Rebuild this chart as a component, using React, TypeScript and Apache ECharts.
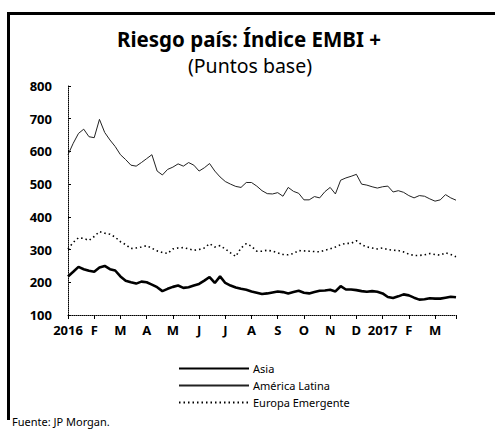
import React, { useEffect, useRef } from "react";
import * as echarts from "echarts";

// x positions in months since Jan 2016 (5 samples per month)
const monthLabels = ["2016", "F", "M", "A", "M", "J", "J", "A", "S", "O", "N", "D", "2017", "F", "M"];
const yTicks = [100, 200, 300, 400, 500, 600, 700, 800];

const asia = [
  218, 232, 247, 240, 235, 232, 245, 250, 240, 236,
  218, 205, 200, 196, 202, 200, 193, 185, 173, 180,
  186, 190, 183, 185, 190, 195, 205, 216, 198, 218,
  198, 190, 184, 180, 177, 172, 168, 164, 166, 169,
  172, 170, 166, 170, 174, 168, 166, 170, 174, 175,
  177, 172, 188, 178, 178, 176, 173, 171, 173, 171,
  166, 155, 152, 157, 163, 160, 153, 147, 148, 151,
  150, 150, 153, 156, 154,
];

const americaLatina = [
  590, 625, 655, 668, 645, 642, 698, 658, 635, 615,
  590, 575, 558, 555, 566, 578, 590, 540, 528, 545,
  552, 562, 555, 566, 558, 540, 550, 563, 540, 522,
  508, 500, 493, 490, 505, 505, 494, 480, 471, 470,
  474, 463, 490, 478, 472, 452, 452, 462, 458, 477,
  490, 470, 512, 519, 524, 530, 500, 497, 492, 488,
  492, 494, 476, 480, 475, 465, 458, 465, 463, 455,
  448, 452, 468, 458, 451,
];

const europaEmergente = [
  302, 322, 336, 334, 328, 340, 355, 350, 347, 338,
  324, 315, 303, 305, 308, 312, 304, 296, 291, 288,
  302, 305, 306, 302, 298, 300, 305, 318, 308, 312,
  302, 290, 279, 305, 318, 310, 295, 295, 298, 295,
  290, 285, 284, 288, 297, 296, 295, 294, 293, 298,
  302, 308, 315, 319, 319, 327, 315, 308, 305, 302,
  305, 300, 298, 297, 293, 286, 282, 282, 284, 288,
  285, 283, 290, 285, 278,
];

const months = asia.map((_, i) => i / 5);
const pair = (vals: number[]) => vals.map((v, i) => [months[i], v]);

const FONT = "'Noto Sans', 'Open Sans', sans-serif";

export default function App() {
  const ref = useRef<HTMLDivElement>(null);
  useEffect(() => {
    document.body.style.margin = "0";
    const chart = echarts.init(ref.current!, undefined, { renderer: "svg" });
    chart.setOption({
      animation: false,
      backgroundColor: "#fff",
      textStyle: { fontFamily: FONT },
      title: [
        {
          text: "Riesgo país: Índice EMBI +",
          left: 249,
          textAlign: "center",
          top: 28,
          padding: 0,
          textStyle: { fontFamily: FONT, fontSize: 20.5, fontWeight: "bold", color: "#000" },
        },
        {
          text: "(Puntos base)",
          left: 250,
          textAlign: "center",
          top: 55,
          padding: 0,
          textStyle: { fontFamily: FONT, fontSize: 19.5, fontWeight: "normal", color: "#000" },
        },
      ],
      grid: { left: 68, right: 39, top: 86, bottom: 116, containLabel: false },
      xAxis: {
        type: "value",
        min: 0,
        max: 14.8,
        interval: 1,
        splitLine: { show: false },
        axisLine: { lineStyle: { color: "#000", type: [1, 1], width: 1 } },
        axisTick: { length: 4, lineStyle: { color: "#000" } },
        axisLabel: {
          margin: 8,
          fontSize: 13,
          fontWeight: "bold",
          color: "#000",
          fontFamily: FONT,
          formatter: (v: number) => monthLabels[Math.round(v)] ?? "",
        },
      },
      yAxis: {
        type: "value",
        min: yTicks[0],
        max: yTicks[yTicks.length - 1],
        interval: 100,
        splitLine: { show: false },
        axisLine: { show: true, lineStyle: { color: "#000", type: [1, 1], width: 1 } },
        axisTick: { show: true, length: 3, inside: true, lineStyle: { color: "#000" } },
        axisLabel: { margin: 16, fontSize: 13, fontWeight: "bold", color: "#000", fontFamily: FONT },
      },
      legend: {
        orient: "vertical",
        left: 173,
        top: 358,
        itemWidth: 70,
        itemHeight: 10,
        itemGap: 6,
        itemStyle: { opacity: 0 },
        textStyle: { fontFamily: FONT, fontSize: 11, color: "#000", padding: [0, 0, 0, -1] },
        data: ["Asia", "América Latina", "Europa Emergente"],
      },
      series: [
        {
          name: "Asia",
          type: "line",
          symbol: "none",
          data: pair(asia),
          lineStyle: { color: "#000", width: 2.6 },
          itemStyle: { color: "#000" },
        },
        {
          name: "América Latina",
          type: "line",
          symbol: "none",
          data: pair(americaLatina),
          lineStyle: { color: "#222", width: 1 },
          itemStyle: { color: "#222" },
        },
        {
          name: "Europa Emergente",
          type: "line",
          symbol: "none",
          data: pair(europaEmergente),
          lineStyle: { color: "#000", width: 1.6, type: [1.5, 3] },
          itemStyle: { color: "#000" },
        },
      ],
      graphic: [
        { type: "rect", shape: { x: 7, y: 12, width: 488, height: 3 }, style: { fill: "#000" } },
        { type: "rect", shape: { x: 7, y: 12, width: 3, height: 408 }, style: { fill: "#000" } },
        {
          type: "text",
          left: 12,
          top: 416,
          style: { text: "Fuente: JP Morgan.", fontFamily: FONT, fontSize: 11, fill: "#000" },
        },
      ],
    });
    return () => chart.dispose();
  }, []);
  return <div ref={ref} style={{ width: 495, height: 431 }} />;
}
